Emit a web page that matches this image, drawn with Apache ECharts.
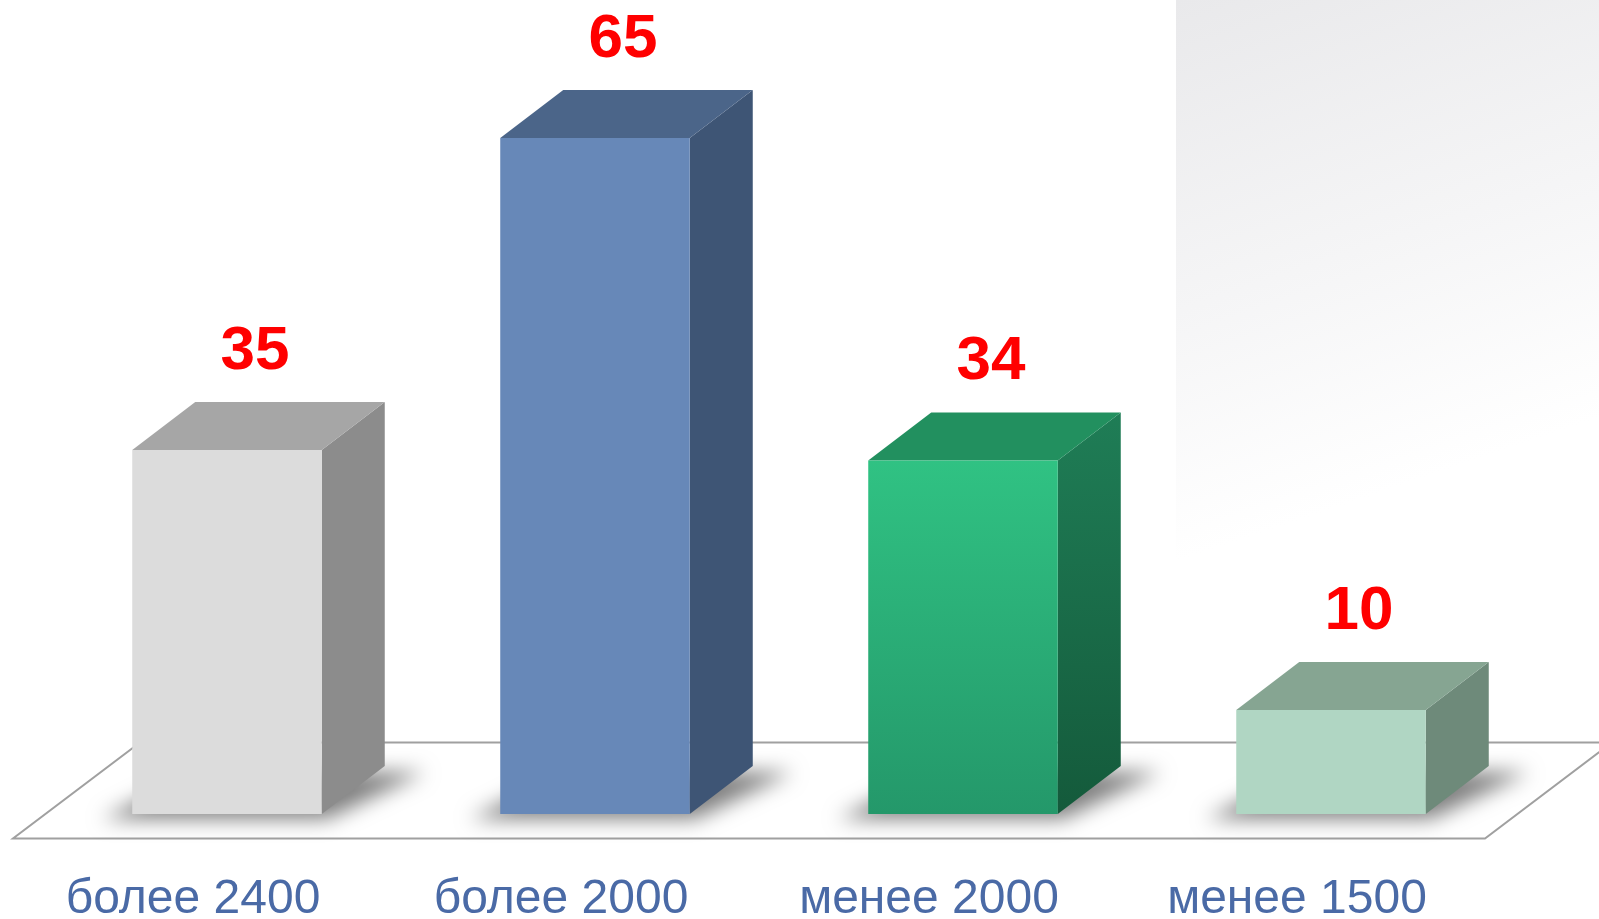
<!DOCTYPE html>
<html><head><meta charset="utf-8">
<script src="https://cdn.jsdelivr.net/npm/echarts@6/dist/echarts.min.js"></script>
<style>html,body{margin:0;padding:0;background:#fff}#c{width:1599px;height:919px}</style>
</head><body><div id="c"></div>
<script>
// ---- data ----
const categories = ['более 2400', 'более 2000', 'менее 2000', 'менее 1500'];
const values = [35, 65, 34, 10];
const yMin = 0;
const yMax = 70;

// ---- styles ----
function vgrad(a, b) {
  return {type: 'linear', x: 0, y: 0, x2: 0, y2: 1, colorStops: [{offset: 0, color: a}, {offset: 1, color: b}]};
}
const frontColors = ['#dcdcdc', '#6788b8', vgrad('#30c283', '#24986a'), '#b0d6c3'];
const topColors = ['#a6a6a6', '#4b6589', '#22905f', '#86a592'];
const sideColors = ['#8c8c8c', '#3e5575', vgrad('#1f7d56', '#145a3b'), '#6e8a7a'];
const DX = 63, DY = -48;          // 3D depth offset
const FLOOR_SHIFT = [-30, 24.5];  // front edge of floor vs. axis line
const FLOOR_DEPTH = [127, -96];
const LABEL_FONT = 'bold 62px "Liberation Sans", Arial, sans-serif';
const CAT_FONT = '48px "Liberation Sans", Arial, sans-serif';

const chart = echarts.init(document.getElementById('c'), null, {renderer: 'canvas'});

function renderFloor(params, api) {
  const cs = params.coordSys;
  const b = cs.y + cs.height;
  const fl = [cs.x + FLOOR_SHIFT[0], b + FLOOR_SHIFT[1]];
  const fr = [cs.x + cs.width + FLOOR_SHIFT[0], b + FLOOR_SHIFT[1]];
  const br = [fr[0] + FLOOR_DEPTH[0], fr[1] + FLOOR_DEPTH[1]];
  const bl = [fl[0] + FLOOR_DEPTH[0], fl[1] + FLOOR_DEPTH[1]];
  return {
    type: 'polygon',
    shape: {points: [fl, fr, br, bl]},
    style: {fill: '#ffffff', stroke: '#a0a0a0', lineWidth: 2}
  };
}

function renderBar(params, api) {
  const idx = api.value(0);
  const val = api.value(1);
  const base = api.coord([idx, 0]);
  const top = api.coord([idx, val]);
  const bw = api.size([1, 0])[0] * 0.515;
  const x0 = base[0] - bw / 2, x1 = base[0] + bw / 2;
  const yb = base[1], yt = top[1];
  const OFF = 3000;
  const shadowPts = [
    [x0 - 30, yb + 5], [x1 + 5, yb + 5], [x1 + DX + 40, yb + DY + 6], [x0 + DX, yb + DY + 6]
  ].map(p => [p[0] - OFF, p[1]]);
  return {
    type: 'group',
    children: [
      {
        type: 'polygon',
        shape: {points: shadowPts},
        style: {fill: '#000', shadowBlur: 20, shadowColor: 'rgba(0,0,0,0.5)', shadowOffsetX: OFF, shadowOffsetY: 0}
      },
      {
        type: 'polygon',
        shape: {points: [[x1, yt], [x1 + DX, yt + DY], [x1 + DX, yb + DY], [x1, yb]]},
        style: {fill: sideColors[idx]}
      },
      {
        type: 'polygon',
        shape: {points: [[x0, yt], [x1, yt], [x1 + DX, yt + DY], [x0 + DX, yt + DY]]},
        style: {fill: topColors[idx]}
      },
      {
        type: 'rect',
        shape: {x: x0, y: yt, width: bw, height: yb - yt},
        style: {fill: frontColors[idx]}
      },
      {
        type: 'text',
        x: base[0] + 28, y: yt + DY - 50,
        style: {text: String(val), font: LABEL_FONT, fill: '#ff0000', align: 'center', verticalAlign: 'middle'}
      },
      {
        type: 'text',
        x: base[0] - 34, y: yb + 86,
        style: {text: categories[idx], font: CAT_FONT, fill: '#4a6aa6', align: 'center', verticalAlign: 'middle'}
      }
    ]
  };
}

chart.setOption({
  animation: false,
  backgroundColor: '#ffffff',
  grid: {left: 43, right: 84, top: 86, bottom: 105},
  xAxis: {type: 'category', data: categories, show: false},
  yAxis: {type: 'value', min: yMin, max: yMax, show: false},
  graphic: [{
    type: 'rect', z: -10,
    shape: {x: 1176, y: 0, width: 423, height: 560},
    style: {fill: {type: 'linear', x: 0, y: 0, x2: 0.45, y2: 1,
      colorStops: [{offset: 0, color: '#e9e9eb'}, {offset: 0.5, color: '#f5f5f6'}, {offset: 0.9, color: '#ffffff'}, {offset: 1, color: '#ffffff'}]}}
  }],
  series: [
    {type: 'custom', z: 1, data: [[0, 0]], renderItem: renderFloor, silent: true},
    {type: 'custom', z: 2, data: values.map((v, i) => [i, v]), renderItem: renderBar}
  ]
});
</script></body></html>
